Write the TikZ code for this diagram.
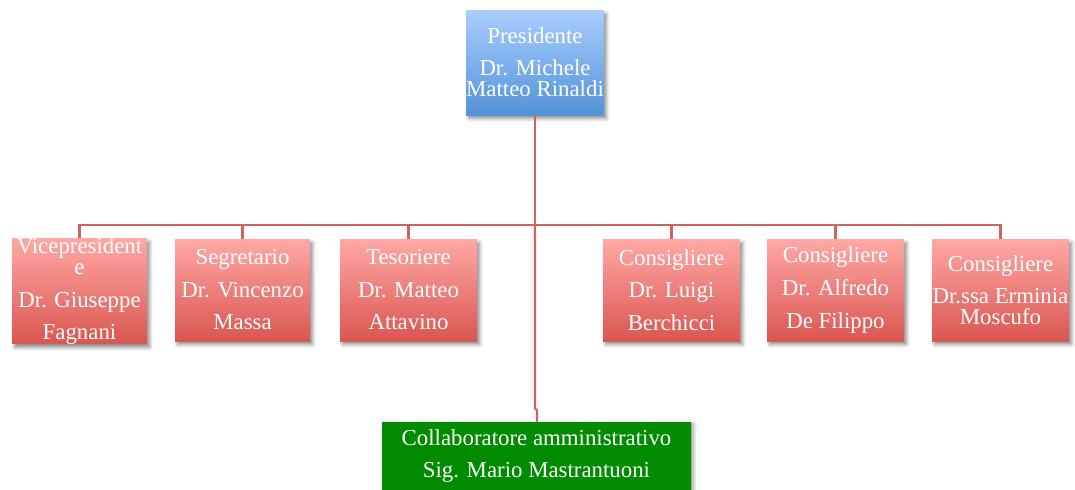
\documentclass[tikz,border=0pt]{standalone}
\usepackage{fontspec}
\setmainfont{Liberation Serif}
\usepackage{tikz}
\usetikzlibrary{shadows, shadows.blur, calc}

\definecolor{linered}{RGB}{205,100,98}
\definecolor{redtop}{RGB}{255,168,165}
\definecolor{redbot}{RGB}{218,86,80}
\definecolor{bluetop}{RGB}{170,206,255}
\definecolor{bluebot}{RGB}{82,146,216}
\definecolor{collgreen}{RGB}{0,139,0}

\tikzset{
	carica/.style={rectangle, minimum width=135\px, minimum height=102\px, inner sep=0pt,
		top color=redtop, bottom color=redbot, text=white, align=center,
		blur shadow={shadow xshift=1.5pt, shadow yshift=-2pt, shadow blur steps=6, shadow blur radius=2pt, shadow opacity=45},
		font=\fontsize{13}{15.5}\selectfont},
	ramo/.style={draw=linered, line width=1.2pt}
}

\begin{document}
\newdimen\px \px=0.02cm
\begin{tikzpicture}[x=0.02cm, y=-0.02cm]
	\useasboundingbox (0,0) rectangle (1075,490);

	% presidente
	\node[carica, minimum width=136\px, minimum height=105\px, top color=bluetop, bottom color=bluebot]
		(pres) at (535,62.5) {Presidente\\[2.5pt]Dr. Michele\\[-3.5pt]Matteo Rinaldi};

	% consiglio direttivo
	\node[carica] (vice) at (79.5,291) {Vicepresident\\[-3.5pt]e\\[3pt]Dr. Giuseppe\\[2.5pt]Fagnani};
	\node[carica] (segr) at (242.5,290) {Segretario\\[3pt]Dr. Vincenzo\\[3pt]Massa};
	\node[carica, minimum width=137\px] (tes) at (408.5,290) {Tesoriere\\[3pt]Dr. Matteo\\[3pt]Attavino};
	\node[carica, minimum width=137\px] (consa) at (671.5,290) {Consigliere\\[3pt]Dr. Luigi\\[3pt]Berchicci};
	\node[carica, minimum width=137\px] (consb) at (835.5,290) {Consigliere\\[3pt]Dr. Alfredo\\[3pt]De Filippo};
	\node[carica, minimum width=137\px] (consc) at (1000.5,290) {Consigliere\\[3pt]Dr.ssa Erminia\\[-3.5pt]Moscufo};

	% collaboratore
	\node[carica, minimum width=309\px, minimum height=68\px, top color=collgreen, bottom color=collgreen,
		blur shadow={shadow xshift=1.5pt, shadow yshift=-1pt, shadow opacity=20}]
		(coll) at (536.5,456) {Collaboratore amministrativo\\[2.5pt]Sig. Mario Mastrantuoni};

	% connettori
	\coordinate (snodo) at ($(pres.south)+(0,110)$);
	\draw[ramo] (pres.south) -- (snodo);
	\draw[ramo] (snodo) -| (vice.north);
	\draw[ramo] (snodo) -| (segr.north);
	\draw[ramo] (snodo) -| (tes.north);
	\draw[ramo] (snodo) -| (consa.north);
	\draw[ramo] (snodo) -| (consb.north);
	\draw[ramo] (snodo) -| (consc.north);
	\draw[ramo] (snodo) -- ++(0,183) -- ++(2,2) |- (coll.north);
\end{tikzpicture}
\end{document}
